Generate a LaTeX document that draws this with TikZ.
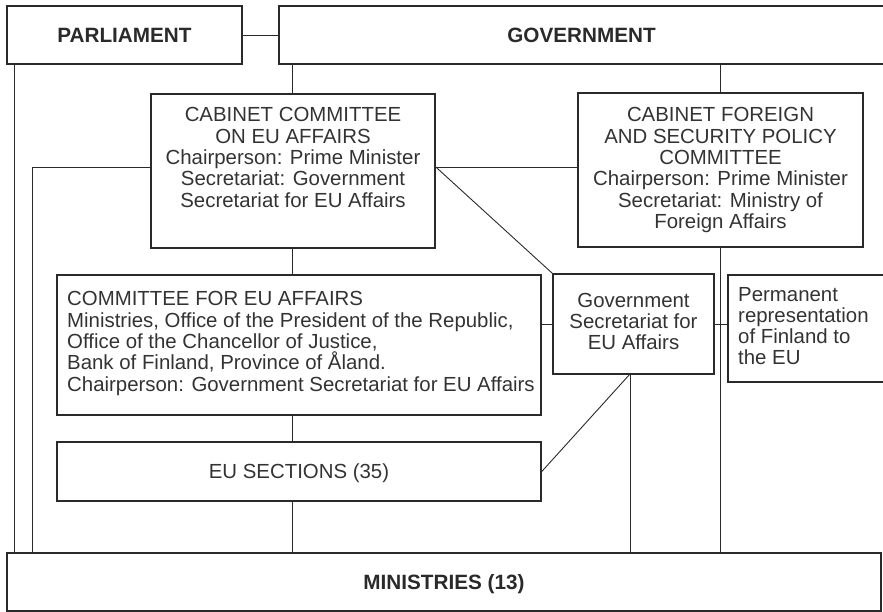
\documentclass[tikz,border=0pt]{standalone}
\usepackage{fontspec}
\setmainfont{Liberation Sans}
\definecolor{ink}{HTML}{2A2A2A}
\definecolor{txt}{HTML}{333333}
\begin{document}
\begin{tikzpicture}[x=1pt,y=-1pt,
  box/.style={draw=ink,line width=1.6pt,rectangle,inner sep=0pt},
  link/.style={draw=ink,line width=0.9pt},
  title/.style={font=\fontsize{20.7}{22}\selectfont\bfseries,text=ink,inner sep=0pt},
  body/.style={font=\fontsize{20.4}{21.3}\selectfont,text=txt,inner sep=0pt}]
\useasboundingbox (0,0) rectangle (883,612);

% boxes
\node[box,minimum width=235pt,minimum height=58pt] (parl) at (124.5,35) {};
\node[box,minimum width=607pt,minimum height=58pt] (gov) at (582.5,35) {};
\node[box,minimum width=284pt,minimum height=154pt] (cab) at (293,171) {};
\node[box,minimum width=285pt,minimum height=154pt] (fsp) at (720.5,170) {};
\node[box,minimum width=484pt,minimum height=140pt] (cfe) at (299,345) {};
\node[box,minimum width=161pt,minimum height=100pt] (gse) at (633.5,324) {};
\node[box,minimum width=162pt,minimum height=107pt] (perm) at (809,328.5) {};
\node[box,minimum width=484pt,minimum height=59pt] (sec) at (299,471.5) {};
\node[box,minimum width=874pt,minimum height=58pt] (min) at (444,582) {};

% texts
\node[title] (tparl) at (parl.center) {PARLIAMENT};
\node[title] (tgov) at (581.5,35) {GOVERNMENT};
\node[title,anchor=base] (tmin) at (444,589) {MINISTRIES (13)};
\node[body,anchor=base] (tsec) at (299,478) {EU SECTIONS (35)};
\node[body,anchor=north,align=center] (tcab) at (293,107.5)
  {CABINET COMMITTEE\\ON EU AFFAIRS\\Chairperson: Prime Minister\\Secretariat: Government\\Secretariat for EU Affairs};
\node[body,anchor=north,align=center] (tfsp) at (720.5,107.5)
  {CABINET FOREIGN\\AND SECURITY POLICY\\COMMITTEE\\Chairperson: Prime Minister\\Secretariat: Ministry of\\Foreign Affairs};
\node[body,anchor=north west,align=left] (tcfe) at (67,291.5)
  {COMMITTEE FOR EU AFFAIRS\\Ministries, Office of the President of the Republic,\\Office of the Chancellor of Justice,\\Bank of Finland, Province of Åland.\\Chairperson: Government Secretariat for EU Affairs};
\node[body,anchor=north,align=center,font=\fontsize{20.4}{20.7}\selectfont] (tgse) at (633.5,293.5)
  {Government\\Secretariat for\\EU Affairs};
\node[body,anchor=north west,align=left,font=\fontsize{20.4}{21}\selectfont] (tperm) at (738,287.5)
  {Permanent\\representation\\of Finland to\\the EU};

% connectors
\coordinate (lft) at (32,167);
\coordinate (pl) at (14,64);
\coordinate (gb) at (630,374);
\coordinate (cx) at (292,0);
\draw[link] (parl.east) -- (gov.west);
\draw[link] (pl |- parl.south) -- (pl |- min.north);
\draw[link] (cx |- gov.south) -- (cx |- cab.north);
\draw[link] (fsp.north |- gov.south) -- (fsp.north);
\draw[link] (lft |- min.north) -- (lft) -- (lft -| cab.west);
\draw[link] (cab.east |- lft) -- (fsp.west |- lft);
\draw[link] (cab.east |- lft) -- (gse.north west);
\draw[link] (cx |- cab.south) -- (cx |- cfe.north);
\draw[link] (cx |- cfe.south) -- (cx |- sec.north);
\draw[link] (cx |- sec.south) -- (cx |- min.north);
\draw[link] (cfe.east |- gse.west) -- (gse.west);
\draw[link] (gse.east) -- (perm.west |- gse.east);
\draw[link] (fsp.south) -- (fsp.south |- min.north);
\draw[link] (gb) -- (gb |- min.north);
\draw[link] (gb) -- (sec.east);
\end{tikzpicture}
\end{document}
